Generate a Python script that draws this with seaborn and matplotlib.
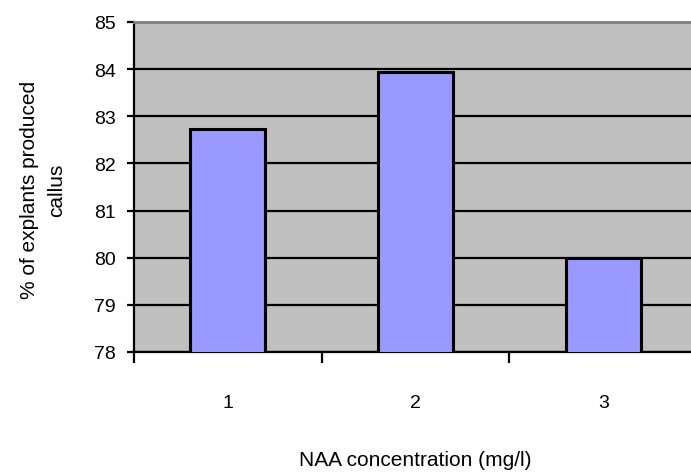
import matplotlib
matplotlib.use("Agg")
import matplotlib.pyplot as plt
import seaborn as sns
import numpy as np

categories = ["1", "2", "3"]
values = [82.73, 83.95, 80.0]
y_ticks = [78, 79, 80, 81, 82, 83, 84, 85]

sns.set_theme(style="white")
plt.rcParams['font.family'] = ['Liberation Sans', 'DejaVu Sans']
plt.rcParams['text.color'] = 'black'
plt.rcParams['axes.labelcolor'] = 'black'
plt.rcParams['xtick.color'] = 'black'
plt.rcParams['ytick.color'] = 'black'

fig = plt.figure(figsize=(6.91, 4.77), dpi=100)
ax = fig.add_axes([134/691, 1-353/477, 563/691, 330/477])
ax.set_facecolor('#c0c0c0')

sns.barplot(x=categories, y=values, color='#9999ff', edgecolor='black',
            linewidth=2.2, width=0.4, saturation=1, ax=ax, zorder=3)

ax.set_ylim(78, 85)
ax.set_xlim(-0.5, 2.5)
ax.set_yticks(y_ticks)
ax.set_yticklabels([str(t) for t in y_ticks], fontsize=14)
ax.yaxis.grid(True, color='black', linewidth=1.6, zorder=1)
ax.set_axisbelow(True)

# category labels centered, ticks at boundaries
ax.set_xticks([0, 1, 2])
ax.set_xticklabels(categories, fontsize=14)
ax.tick_params(axis='x', which='major', length=0, pad=30)
ax.set_xticks([-0.5, 0.5, 1.5], minor=True)
ax.tick_params(axis='x', which='minor', length=8, width=1.6, color='black', bottom=True)
ax.tick_params(axis='y', which='major', length=5, width=1.6, color='black', left=True, pad=8)

for s in ['left', 'bottom']:
    ax.spines[s].set_color('black')
    ax.spines[s].set_linewidth(1.6)
ax.spines['top'].set_color('#808080')
ax.spines['top'].set_linewidth(2)
ax.spines['right'].set_visible(False)

ax.set_xlabel("NAA concentration (mg/l)", fontsize=15)
ax.xaxis.set_label_coords((415-134)/563, -(451-353)/330)
ax.set_ylabel("% of explants produced\ncallus", fontsize=15, linespacing=1.5)
ax.yaxis.set_label_coords(-(134-66)/563, (353-190)/330)

fig.savefig("out.png", dpi=100)
